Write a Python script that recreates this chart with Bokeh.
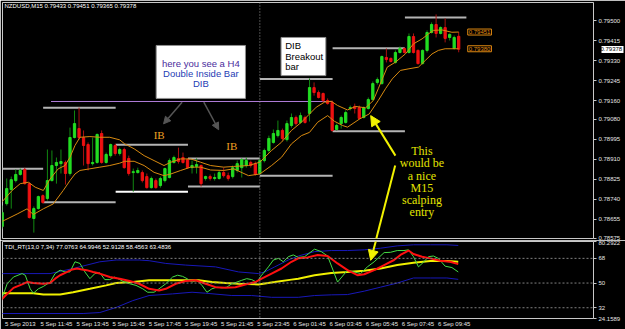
from bokeh.plotting import figure
from bokeh.layouts import column
from bokeh.models import (Range1d, FixedTicker, PrintfTickFormatter, Label, Span, LinearAxis,
                          Arrow, NormalHead, BoxAnnotation, ColumnDataSource)
from bokeh.embed import file_html
from bokeh.resources import INLINE

# ---------------- data: NZDUSD M15 candles (bar index 0 = 5 Sep 09:45) ----------------
opens = [0.78625, 0.78722, 0.78782, 0.78820, 0.78846, 0.78867, 0.78807, 0.78659, 0.78701, 0.78756,
         0.78744, 0.78820, 0.78884, 0.78892, 0.78897, 0.78850, 0.79003, 0.79041, 0.79003, 0.78973,
         0.78892, 0.78897, 0.79020, 0.78897, 0.78926, 0.78969, 0.78935, 0.78952, 0.78914, 0.78854,
         0.78854, 0.78854, 0.78837, 0.78790, 0.78820, 0.78799, 0.78820, 0.78833, 0.78897, 0.78914,
         0.78918, 0.78909, 0.78875, 0.78880, 0.78884, 0.78829, 0.78837, 0.78829, 0.78829, 0.78854,
         0.78841, 0.78837, 0.78863, 0.78875, 0.78884, 0.78897, 0.78892, 0.78850, 0.78905, 0.78948,
         0.78982, 0.79011, 0.79033, 0.78994, 0.79054, 0.79088, 0.79067, 0.79088, 0.79105, 0.79215,
         0.79194, 0.79190, 0.79160, 0.79152, 0.79037, 0.79062, 0.79067, 0.79126, 0.79135, 0.79130,
         0.79088, 0.79126, 0.79164, 0.79237, 0.79232, 0.79343, 0.79339, 0.79322, 0.79364, 0.79381,
         0.79364, 0.79432, 0.79373, 0.79317, 0.79373, 0.79449, 0.79483, 0.79445, 0.79470, 0.79428,
         0.79381, 0.79433]
highs = [0.78714, 0.78829, 0.78837, 0.78867, 0.78871, 0.78875, 0.78812, 0.78710, 0.78756, 0.78761,
         0.78952, 0.78948, 0.78918, 0.78952, 0.78905, 0.79045, 0.79118, 0.79130, 0.79033, 0.78982,
         0.79003, 0.79020, 0.79033, 0.78939, 0.78977, 0.78977, 0.78960, 0.78960, 0.78926, 0.78871,
         0.78875, 0.78863, 0.78850, 0.78837, 0.78829, 0.78837, 0.78875, 0.78914, 0.78926, 0.78960,
         0.78939, 0.78914, 0.78905, 0.78914, 0.78888, 0.78841, 0.78846, 0.78850, 0.78863, 0.78875,
         0.78854, 0.78884, 0.78905, 0.78914, 0.78918, 0.78905, 0.78901, 0.78914, 0.78956, 0.79011,
         0.79037, 0.79075, 0.79041, 0.79075, 0.79105, 0.79096, 0.79109, 0.79096, 0.79254, 0.79237,
         0.79203, 0.79194, 0.79169, 0.79160, 0.79062, 0.79096, 0.79118, 0.79139, 0.79147, 0.79139,
         0.79135, 0.79173, 0.79241, 0.79258, 0.79351, 0.79381, 0.79343, 0.79373, 0.79390, 0.79385,
         0.79445, 0.79445, 0.79377, 0.79377, 0.79458, 0.79492, 0.79526, 0.79475, 0.79509, 0.79445,
         0.79436, 0.79451]
lows = [0.78616, 0.78714, 0.78701, 0.78812, 0.78841, 0.78803, 0.78659, 0.78599, 0.78697, 0.78722,
        0.78735, 0.78816, 0.78807, 0.78850, 0.78803, 0.78841, 0.78999, 0.78994, 0.78884, 0.78863,
        0.78884, 0.78892, 0.78892, 0.78892, 0.78918, 0.78926, 0.78926, 0.78871, 0.78841, 0.78773,
        0.78850, 0.78812, 0.78786, 0.78786, 0.78786, 0.78790, 0.78812, 0.78829, 0.78892, 0.78892,
        0.78892, 0.78871, 0.78850, 0.78850, 0.78795, 0.78820, 0.78820, 0.78820, 0.78824, 0.78833,
        0.78820, 0.78829, 0.78854, 0.78833, 0.78875, 0.78875, 0.78841, 0.78846, 0.78897, 0.78939,
        0.78977, 0.79003, 0.78990, 0.78986, 0.79045, 0.79054, 0.79062, 0.79062, 0.79071, 0.79181,
        0.79169, 0.79152, 0.79143, 0.79028, 0.79033, 0.79041, 0.79062, 0.79118, 0.79105, 0.79079,
        0.79084, 0.79122, 0.79160, 0.79228, 0.79228, 0.79322, 0.79322, 0.79317, 0.79360, 0.79360,
        0.79360, 0.79360, 0.79313, 0.79313, 0.79364, 0.79445, 0.79428, 0.79441, 0.79407, 0.79415,
        0.79377, 0.79365]
closes = [0.78684, 0.78786, 0.78824, 0.78846, 0.78863, 0.78807, 0.78663, 0.78701, 0.78752, 0.78727,
          0.78820, 0.78884, 0.78897, 0.78901, 0.78850, 0.79003, 0.79062, 0.79003, 0.78969, 0.78892,
          0.78897, 0.79016, 0.78897, 0.78931, 0.78973, 0.78935, 0.78952, 0.78875, 0.78850, 0.78858,
          0.78863, 0.78820, 0.78790, 0.78829, 0.78790, 0.78829, 0.78871, 0.78905, 0.78918, 0.78901,
          0.78897, 0.78875, 0.78884, 0.78888, 0.78807, 0.78837, 0.78829, 0.78833, 0.78854, 0.78841,
          0.78829, 0.78875, 0.78892, 0.78909, 0.78905, 0.78884, 0.78846, 0.78905, 0.78948, 0.78999,
          0.79020, 0.79033, 0.78999, 0.79062, 0.79088, 0.79062, 0.79096, 0.79067, 0.79215, 0.79194,
          0.79173, 0.79160, 0.79147, 0.79033, 0.79054, 0.79088, 0.79109, 0.79130, 0.79126, 0.79084,
          0.79130, 0.79164, 0.79232, 0.79249, 0.79347, 0.79334, 0.79326, 0.79364, 0.79381, 0.79364,
          0.79432, 0.79364, 0.79317, 0.79373, 0.79449, 0.79483, 0.79445, 0.79470, 0.79424, 0.79441,
          0.79428, 0.79378]
bars = list(range(len(closes)))

# orange moving-average lines
up_x = [-0.4, 2.2, 4.0, 5.8, 7.3, 9.1, 10.6, 12.4, 13.9, 15.0, 16.1, 17.2, 19.4, 21.6, 23.8, 26.0,
        27.1, 29.2, 31.4, 33.6, 35.8, 37.3, 39.5, 41.7, 43.9, 46.1, 49.0, 51.2, 54.5, 57.0, 59.6,
        61.8, 64.0, 66.2, 68.0, 69.5, 71.3, 72.8, 74.2, 76.4, 78.2, 80.4, 82.1, 83.2, 84.1, 85.2,
        87.0, 89.2, 91.0, 92.9, 94.3, 95.4, 97.3, 99.5, 101]
up_p = [0.78722, 0.78778, 0.78807, 0.78813, 0.78792, 0.78778, 0.78827, 0.78870, 0.78884, 0.78919,
        0.78969, 0.79004, 0.79007, 0.79004, 0.79004, 0.78993, 0.78976, 0.78955, 0.78926, 0.78905,
        0.78884, 0.78898, 0.78912, 0.78912, 0.78898, 0.78884, 0.78877, 0.78880, 0.78884, 0.78898,
        0.78948, 0.78983, 0.79033, 0.79068, 0.79103, 0.79132, 0.79153, 0.79157, 0.79139, 0.79120,
        0.79135, 0.79129, 0.79160, 0.79210, 0.79252, 0.79302, 0.79323, 0.79358, 0.79401, 0.79422,
        0.79443, 0.79458, 0.79460, 0.79450, 0.79451]
lo_x = [-0.4, 3.3, 5.5, 6.9, 9.1, 11.3, 13.5, 15.0, 16.1, 17.2, 19.4, 21.6, 23.8, 26.0, 27.1, 29.2,
        31.4, 33.6, 35.8, 37.3, 39.5, 41.7, 43.9, 46.1, 49.0, 51.2, 54.5, 57.0, 59.6, 61.8, 64.0,
        66.2, 68.0, 69.8, 72.0, 73.5, 75.3, 76.4, 79.1, 81.2, 83.2, 84.8, 86.3, 88.1, 90.0, 92.1,
        93.6, 95.1, 96.5, 98.0, 100.2, 101]
lo_p = [0.78643, 0.78678, 0.78700, 0.78676, 0.78700, 0.78721, 0.78778, 0.78820, 0.78848, 0.78863,
        0.78870, 0.78877, 0.78884, 0.78894, 0.78902, 0.78902, 0.78884, 0.78855, 0.78841, 0.78848,
        0.78863, 0.78877, 0.78877, 0.78865, 0.78863, 0.78870, 0.78841, 0.78848, 0.78884, 0.78919,
        0.78976, 0.79011, 0.79025, 0.79068, 0.79096, 0.79072, 0.79054, 0.79047, 0.79082, 0.79103,
        0.79160, 0.79210, 0.79252, 0.79288, 0.79295, 0.79302, 0.79330, 0.79358, 0.79373, 0.79380,
        0.79380, 0.79380]

# H4 high/low level lines
lev_x0 = [0.0, 9.06, 9.06, 25.1, 25.1, 41.1, 41.1, 57.0, 57.0, 73.1, 73.1, 89.1]
lev_x1 = [9.06, 25.1, 25.1, 41.1, 41.1, 57.0, 57.0, 73.1, 73.1, 89.1, 89.1, 102.7]
lev_p = [0.78870, 0.79129, 0.78728, 0.78972, 0.78773, 0.78914, 0.78795, 0.79252, 0.78841,
         0.79382, 0.79030, 0.79513]
lev_col = ["#b4b4b4", "#b4b4b4", "#b4b4b4", "#b4b4b4", "#ffffff", "#b4b4b4", "#b4b4b4",
           "#b4b4b4", "#b4b4b4", "#b4b4b4", "#b4b4b4", "#b4b4b4"]
purple_x = [10.8, 73.1]
purple_p = [0.79156, 0.79156]

price_ticks = [0.79500, 0.79415, 0.79330, 0.79245, 0.79160, 0.79080, 0.78995, 0.78910,
               0.78825, 0.78740, 0.78655, 0.78575]
last_price = 0.79378

# time axis
time_bars = [0, 8, 16, 24, 32, 40, 48, 56, 64, 72, 80, 88, 96]
time_labels = ["5 Sep 2013", "5 Sep 11:45", "5 Sep 13:45", "5 Sep 15:45", "5 Sep 17:45",
               "5 Sep 19:45", "5 Sep 21:45", "5 Sep 23:45", "6 Sep 01:45", "6 Sep 03:45",
               "6 Sep 05:45", "6 Sep 07:45", "6 Sep 09:45"]

# TDI indicator
blue_up_x = [-0.4, 10.6, 15.7, 21.6, 25.2, 30.3, 32.5, 36.2, 40.6, 47.2, 52.3, 56.7, 58.1, 60.3,
             63.3, 65.5, 69.1, 72.8, 76.4, 80.1, 83.7, 87.4, 91.0, 94.7, 98.4, 100.9]
blue_up_v = [56.9, 56.9, 60.6, 65.5, 66.8, 66.8, 66.3, 64.3, 63.1, 61.8, 58.1, 56.9, 58.1, 61.8,
             66.8, 69.7, 72.9, 73.7, 73.7, 74.2, 75.4, 77.1, 77.9, 77.9, 77.9, 77.4]
blue_lo_x = [-0.4, 17.9, 21.6, 25.2, 28.9, 32.5, 37.7, 42.0, 45.0, 50.8, 55.2, 59.6, 65.5, 69.1,
             72.8, 76.4, 80.1, 83.7, 87.4, 91.0, 94.7, 98.4, 100.9]
blue_lo_v = [27.8, 27.8, 28.5, 32.2, 37.2, 40.9, 42.1, 43.3, 42.6, 40.9, 40.9, 39.6, 39.6, 40.9,
             41.4, 41.6, 44.1, 47.0, 50.0, 53.7, 53.7, 53.7, 52.7]
yellow_x = [-0.4, 6.9, 9.1, 12.8, 15.7, 19.4, 23.0, 25.2, 28.9, 32.5, 43.5, 46.4, 49.4, 52.3,
            56.7, 60.3, 64.0, 65.5, 69.1, 72.8, 76.4, 80.1, 83.7, 87.4, 91.0, 94.7, 98.4, 100.9]
yellow_v = [42.6, 42.6, 41.6, 41.6, 43.3, 45.8, 48.3, 50.0, 50.7, 52.0, 52.0, 50.7, 50.0, 49.5,
            49.0, 50.7, 52.5, 53.2, 55.7, 57.4, 58.1, 58.9, 60.6, 63.1, 64.8, 66.0, 66.0, 65.5]
green_x = [-0.4, 1.1, 2.5, 4.4, 5.1, 6.2, 6.9, 8.0, 9.1, 10.6, 11.7, 12.8, 13.9, 15.0, 16.1, 17.2,
           18.3, 19.4, 20.5, 21.6, 22.7, 23.8, 24.9, 26.0, 27.1, 28.2, 29.6, 31.1, 32.2, 33.6,
           34.7, 36.2, 37.7, 38.8, 39.9, 40.9, 42.0, 43.1, 44.2, 45.3, 46.4, 47.5, 48.6, 49.7,
           50.8, 51.9, 53.0, 54.1, 55.2, 56.3, 57.4, 58.9, 60.0, 61.1, 62.2, 63.3, 64.4, 65.5,
           66.9, 69.1, 70.6, 72.0, 74.2, 76.4, 77.9, 79.3, 80.8, 82.3, 84.5, 85.9, 87.4, 88.9,
           89.9, 91.0, 92.1, 93.3, 94.3, 95.4, 96.5, 98.0, 99.5, 100.9]
green_v = [35.9, 49.5, 54.4, 56.9, 55.7, 45.8, 42.6, 45.8, 47.5, 50.7, 56.9, 59.4, 58.1, 58.1,
           65.5, 64.3, 58.1, 53.2, 56.9, 57.4, 52.5, 52.5, 54.4, 52.5, 50.7, 49.5, 48.3, 45.8,
           43.3, 43.3, 45.8, 49.5, 54.4, 55.7, 54.9, 53.2, 50.7, 52.0, 48.3, 43.3, 45.8, 47.0,
           46.5, 47.0, 49.5, 50.7, 52.0, 53.2, 52.5, 50.7, 55.7, 61.8, 66.8, 68.0, 65.5, 69.2,
           70.5, 68.7, 69.2, 74.7, 72.9, 69.7, 50.7, 59.4, 58.1, 56.9, 61.8, 65.5, 72.2, 72.4,
           73.7, 73.7, 74.2, 69.2, 61.8, 65.5, 69.2, 69.7, 68.0, 62.3, 61.3, 58.1]
red_x = [-0.4, 1.1, 2.5, 4.4, 5.5, 6.9, 9.1, 10.6, 11.7, 12.8, 14.4, 15.5, 16.6, 17.6, 18.7, 20.1,
         21.6, 23.8, 26.0, 28.2, 30.3, 32.5, 34.7, 36.2, 38.4, 40.6, 42.8, 45.0, 47.2, 49.4, 51.6,
         53.8, 56.0, 57.4, 59.6, 61.8, 64.0, 65.5, 67.6, 69.8, 72.0, 74.2, 76.4, 78.6, 80.1, 82.3,
         84.5, 86.7, 88.1, 89.9, 91.0, 92.9, 94.7, 96.9, 99.1, 100.9]
red_v = [37.2, 42.1, 46.5, 49.0, 50.7, 50.0, 49.5, 50.0, 53.2, 55.7, 58.1, 59.9, 60.6, 59.9, 59.4,
         58.1, 56.9, 54.4, 53.2, 51.5, 49.5, 45.8, 44.6, 45.8, 49.5, 51.5, 52.0, 49.5, 47.0, 46.5,
         47.0, 49.0, 50.7, 53.2, 56.9, 60.6, 65.5, 68.0, 68.7, 70.5, 69.7, 64.3, 59.4, 55.7, 56.4,
         59.4, 63.1, 66.8, 70.5, 73.7, 71.2, 69.2, 68.0, 66.3, 65.5, 63.8]
tdi_ticks = [24.1589, 32, 50, 68, 80.2922]
tdi_levels = [32, 50, 68]

# ---------------- styling ----------------
FONT = "Liberation Sans"
SERIF = "Liberation Serif"
AX_TXT = "#e6e6e6"
FRAME = "#c8c8c8"
BAR_PX = 4.558
X0 = 0.066
xr = Range1d(X0, X0 + 596 / BAR_PX)


def style_right_axis(ax):
    ax.major_label_text_color = AX_TXT
    ax.major_label_text_font = FONT
    ax.major_label_text_font_size = "6px"
    ax.major_tick_out = 3
    ax.major_tick_in = 0
    ax.minor_tick_out = 0
    ax.minor_tick_in = 0
    ax.major_tick_line_color = FRAME
    ax.axis_line_color = None
    ax.major_label_standoff = 2


p1 = figure(width=625, height=240, x_range=xr, y_range=Range1d(0.78574, 0.795765),
            x_axis_location=None, y_axis_location="right", output_backend="svg",
            toolbar_location=None, background_fill_color="black", border_fill_color="black",
            outline_line_color=FRAME, min_border_left=2, min_border_right=27,
            min_border_top=2, min_border_bottom=2)
p1.grid.visible = False
ya = p1.yaxis[0]
ya.ticker = FixedTicker(ticks=price_ticks)
ya.formatter = PrintfTickFormatter(format="%.5f")
style_right_axis(ya)

# current price tag: a second right axis with a single tick; its thick inward tick
# draws the white box and its label is pulled back on top of it
tag_ax = LinearAxis(ticker=FixedTicker(ticks=[last_price]),
                    formatter=PrintfTickFormatter(format="%.5f"))
tag_ax.major_label_text_font = FONT
tag_ax.major_label_text_font_size = "6px"
tag_ax.major_label_text_color = "#000000"
tag_ax.major_tick_out = 0
tag_ax.major_tick_in = 22
tag_ax.major_tick_line_width = 7
tag_ax.major_tick_line_color = "#ffffff"
tag_ax.minor_tick_out = 0
tag_ax.minor_tick_in = 0
tag_ax.axis_line_color = None
tag_ax.major_label_standoff = -23
p1.add_layout(tag_ax, "right")

# level lines
p1.segment(x0=lev_x0, y0=lev_p, x1=lev_x1, y1=lev_p, line_color=lev_col, line_width=2)
p1.line(purple_x, purple_p, line_color="#b07cd8", line_width=1)
p1.add_layout(Span(location=57.0, dimension="height", line_color="#9a9a9a",
                   line_dash="1 2", line_width=1))

# candles
bull = [c >= o for o, c in zip(opens, closes)]
src = ColumnDataSource(dict(
    x=bars, h=highs, l=lows,
    top=[max(o, c) for o, c in zip(opens, closes)],
    bot=[min(o, c) for o, c in zip(opens, closes)],
    body=["#22dd22" if b else "#ee1111" for b in bull],
    wick=["#118811" if b else "#aa1111" for b in bull]))
p1.segment(x0="x", y0="l", x1="x", y1="h", source=src, line_color="wick", line_width=1)
p1.vbar(x="x", width=0.5, top="top", bottom="bot", source=src,
        fill_color="body", line_color="body", line_width=1)

# orange lines
p1.line(up_x, up_p, line_color="#d88a10", line_width=1)
p1.line(lo_x, lo_p, line_color="#d88a10", line_width=1)

# header
p1.add_layout(Label(x=0.5, y=0.79560, text="NZDUSD,M15  0.79433 0.79451 0.79365 0.79378",
                    text_font=FONT, text_font_size="6px", text_color="#ffffff",
                    text_baseline="middle"))

# annotation boxes
p1.add_layout(BoxAnnotation(left=34.07, right=53.82, top=0.79394, bottom=0.79169,
                            fill_color="white", fill_alpha=1.0, line_color="#909090",
                            line_alpha=1.0, line_width=1))
p1.add_layout(BoxAnnotation(left=61.7, right=71.6, top=0.79428, bottom=0.79266,
                            fill_color="white", fill_alpha=1.0, line_color="#909090",
                            line_alpha=1.0, line_width=1))
for txt, yy, col in [("here you see a H4", 0.79319, "#4a2c9c"),
                     ("Double Inside Bar", 0.79273, "#1e3cb4"),
                     ("DIB", 0.79233, "#1e3cb4")]:
    p1.add_layout(Label(x=43.95, y=yy, text=txt, text_font=FONT, text_font_size="9.5px",
                        text_color=col, text_align="center", text_baseline="middle"))
for txt, yy in [("DIB", 0.79394), ("Breakout", 0.79347), ("bar", 0.79305)]:
    p1.add_layout(Label(x=62.6, y=yy, text=txt, text_font=FONT, text_font_size="9.5px",
                        text_color="#000000", text_align="left", text_baseline="middle"))

# grey arrows
for xs, ys, xe, ye in [(39.8, 0.79153, 35.7, 0.79061), (44.6, 0.79153, 47.9, 0.79036)]:
    p1.add_layout(Arrow(end=NormalHead(size=7, fill_color="#555555", line_color="#555555"),
                        x_start=xs, y_start=ys, x_end=xe, y_end=ye,
                        line_color="#555555", line_width=1.5))

# IB labels
for xx, yy in [(34.73, 0.79014), (50.8, 0.78965)]:
    p1.add_layout(Label(x=xx, y=yy, text="IB", text_font=SERIF, text_font_size="11px",
                        text_color="#f0a020", text_align="center", text_baseline="middle"))

# yellow arrow + text
YEL = "#f2f200"
p1.add_layout(Arrow(end=NormalHead(size=10, fill_color=YEL, line_color=YEL),
                    x_start=87.0, y_start=0.78926, x_end=81.53, y_end=0.79096,
                    line_color=YEL, line_width=2))
p1.segment(x0=[86.95], y0=[0.78884], x1=[82.6], y1=[0.78561], line_color=YEL, line_width=2)
for txt, yy in [("This", 0.78945), ("would be", 0.78894), ("a nice", 0.78841),
                ("M15", 0.78789), ("scalping", 0.78738), ("entry", 0.78688)]:
    p1.add_layout(Label(x=92.87, y=yy, text=txt, text_font=SERIF, text_font_size="12px",
                        text_color="#e4e400", text_align="center", text_baseline="middle"))

# orange price tags for the MA lines
for val in [up_p[-1], lo_p[-1]]:
    p1.add_layout(Label(x=103.0, y=val, text="%.5f" % val, text_font=FONT,
                        text_font_size="6px", text_color="#e08a10", text_baseline="middle",
                        border_line_color="#e08a10", background_fill_color="black",
                        padding=1))

# ---------------- indicator panel ----------------
p2 = figure(width=625, height=89, x_range=xr, y_range=Range1d(24.1589, 80.2922),
            y_axis_location="right", x_axis_location="below", output_backend="svg",
            toolbar_location=None, background_fill_color="black", border_fill_color="black",
            outline_line_color=FRAME, min_border_left=2, min_border_right=27,
            min_border_top=1, min_border_bottom=10)
p2.grid.visible = False
ya2 = p2.yaxis[0]
ya2.ticker = FixedTicker(ticks=tdi_ticks)
ya2.major_label_overrides = {24.1589: "24.1589", 32: "32", 50: "50", 68: "68",
                             80.2922: "80.2922"}
style_right_axis(ya2)
xa = p2.xaxis[0]
LABEL_SHIFT = 4
xa.ticker = FixedTicker(ticks=[b + LABEL_SHIFT for b in time_bars])
xa.major_label_overrides = {b + LABEL_SHIFT: t for b, t in zip(time_bars, time_labels)}
xa.major_label_text_color = AX_TXT
xa.major_label_text_font = FONT
xa.major_label_text_font_size = "6px"
xa.major_tick_out = 0
xa.major_tick_in = 0
xa.minor_tick_out = 0
xa.minor_tick_in = 0
xa.axis_line_color = None
xa.major_label_standoff = 2

for lv in tdi_levels:
    p2.add_layout(Span(location=lv, dimension="width", line_color="#808080",
                       line_dash="2 2", line_width=1))
p2.add_layout(Span(location=57.0, dimension="height", line_color="#9a9a9a",
                   line_dash="1 2", line_width=1))

p2.line(blue_up_x, blue_up_v, line_color="#1818b8", line_width=1)
p2.line(blue_lo_x, blue_lo_v, line_color="#1818b8", line_width=1)
p2.line(yellow_x, yellow_v, line_color="#f0f000", line_width=2)
p2.line(green_x, green_v, line_color="#44dd44", line_width=1)
p2.line(red_x, red_v, line_color="#ff1010", line_width=2)

p2.add_layout(Arrow(end=NormalHead(size=10, fill_color=YEL, line_color=YEL),
                    x_start=82.7, y_start=81.0, x_end=81.53, y_end=66.56,
                    line_color=YEL, line_width=2))
p2.add_layout(Label(x=0.5, y=76.6,
                    text="TDI_RT(13,0 7,34) 77.0763 64.9946 52.9128 58.4563 63.4836",
                    text_font=FONT, text_font_size="6px", text_color="#ffffff",
                    text_baseline="middle"))

layout = column(p1, p2)
open("out.html", "w").write(file_html(layout, INLINE))
